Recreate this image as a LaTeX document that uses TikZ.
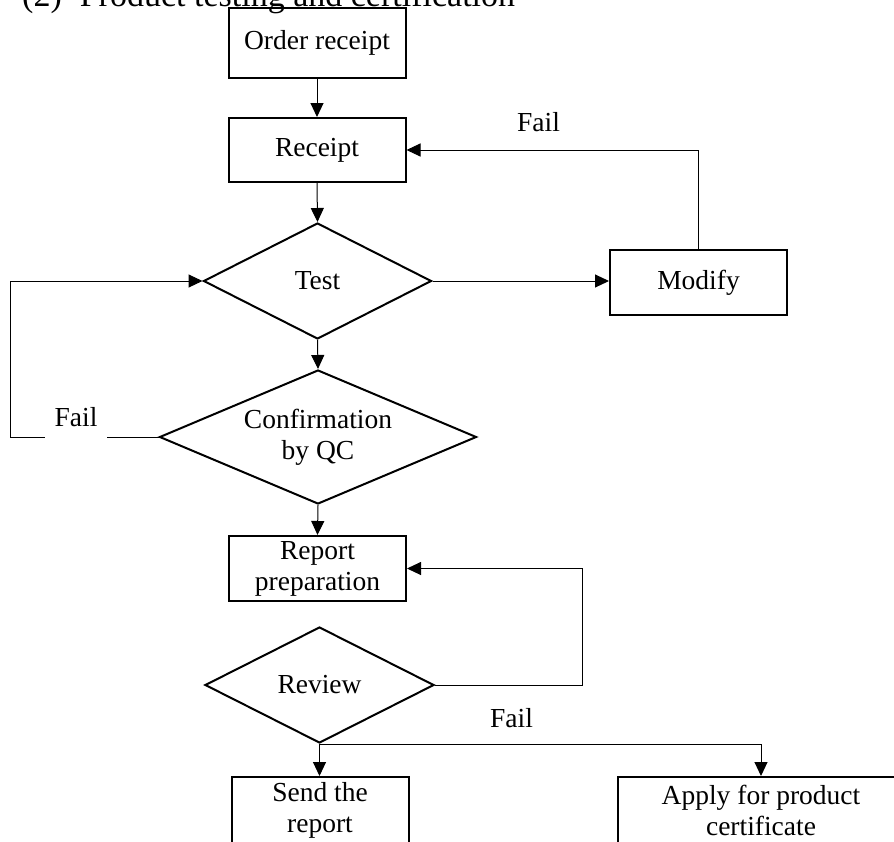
\documentclass[tikz,border=0pt]{standalone}
\usepackage{fontspec}
\setmainfont{Liberation Serif}
\usetikzlibrary{shapes.geometric,arrows.meta,calc}
\tikzset{
  boxnode/.style={draw, line width=2pt, rectangle, minimum width=177pt, minimum height=65pt, inner sep=2pt, align=center, font=\fontsize{27.5}{31}\selectfont},
  dianode/.style={draw, line width=2pt, diamond, inner sep=0pt, align=center, font=\fontsize{27.5}{31}\selectfont},
  conn/.style={line width=1pt, -{Triangle[length=14pt,width=13pt]}},
  lbl/.style={font=\fontsize{27.5}{31}\selectfont, anchor=base, inner sep=0pt}
}
\begin{document}
\begin{tikzpicture}[x=1pt,y=-1pt]
\useasboundingbox (0,0) rectangle (894,841);
\clip (0,0) rectangle (894,841);
\fill[white] (0,0) rectangle (894,841);
\node[anchor=base west, inner sep=0pt, font=\fontsize{34}{38}\selectfont] (title) at (22,6) {(2)\hspace{18pt}Product testing and certification};
\node[boxnode, minimum height=70pt] (order) at (317,43) {Order receipt};
\node[boxnode, minimum height=64pt] (receipt) at (317,150) {Receipt};
\node[dianode, shape aspect=1.97, minimum width=228pt, minimum height=116pt] (test) at (317.5,281) {Test};
\node[dianode, shape aspect=2.37, minimum width=317pt, minimum height=134pt] (conf) at (318,437) {Confirmation\\by QC};
\node[boxnode] (modify) at (698.5,282.5) {Modify};
\node[boxnode] (report) at (317.5,568.5) {Report\\preparation};
\node[dianode, shape aspect=1.97, minimum width=229pt, minimum height=116pt] (review) at (319.5,685) {Review};
\node[boxnode, minimum height=66pt] (send) at (320,810) {Send the\\report};
\node[boxnode, minimum width=286pt, minimum height=66pt] (apply) at (761,810) {Apply for product\\certificate};
\coordinate (lc) at (10,437);
\coordinate (rc) at (582,685);
\draw[conn] (order.south) -- (receipt.north);
\draw[conn] (receipt.south) -- (test.north);
\draw[conn] (test.south) -- (conf.north);
\draw[conn] (conf.south) -- (report.north);
\draw[conn] (test.east) -- (test.east -| modify.west);
\draw[conn] (modify.north) |- (receipt.east);
\draw[conn] (conf.west) -- (lc) |- (test.west);
\draw[conn] (review.east) -- (rc) |- (report.east);
\draw[conn] (review.south) -- (review.south |- send.north);
\draw[conn] (review.south) -| (apply.north);
\node[lbl] (fail1) at (538.5,131) {Fail};
\node[lbl, fill=white, inner xsep=10pt, inner ysep=13pt] (fail2) at (76,426) {Fail};
\node[lbl] (fail3) at (511.5,727) {Fail};
\end{tikzpicture}
\end{document}
